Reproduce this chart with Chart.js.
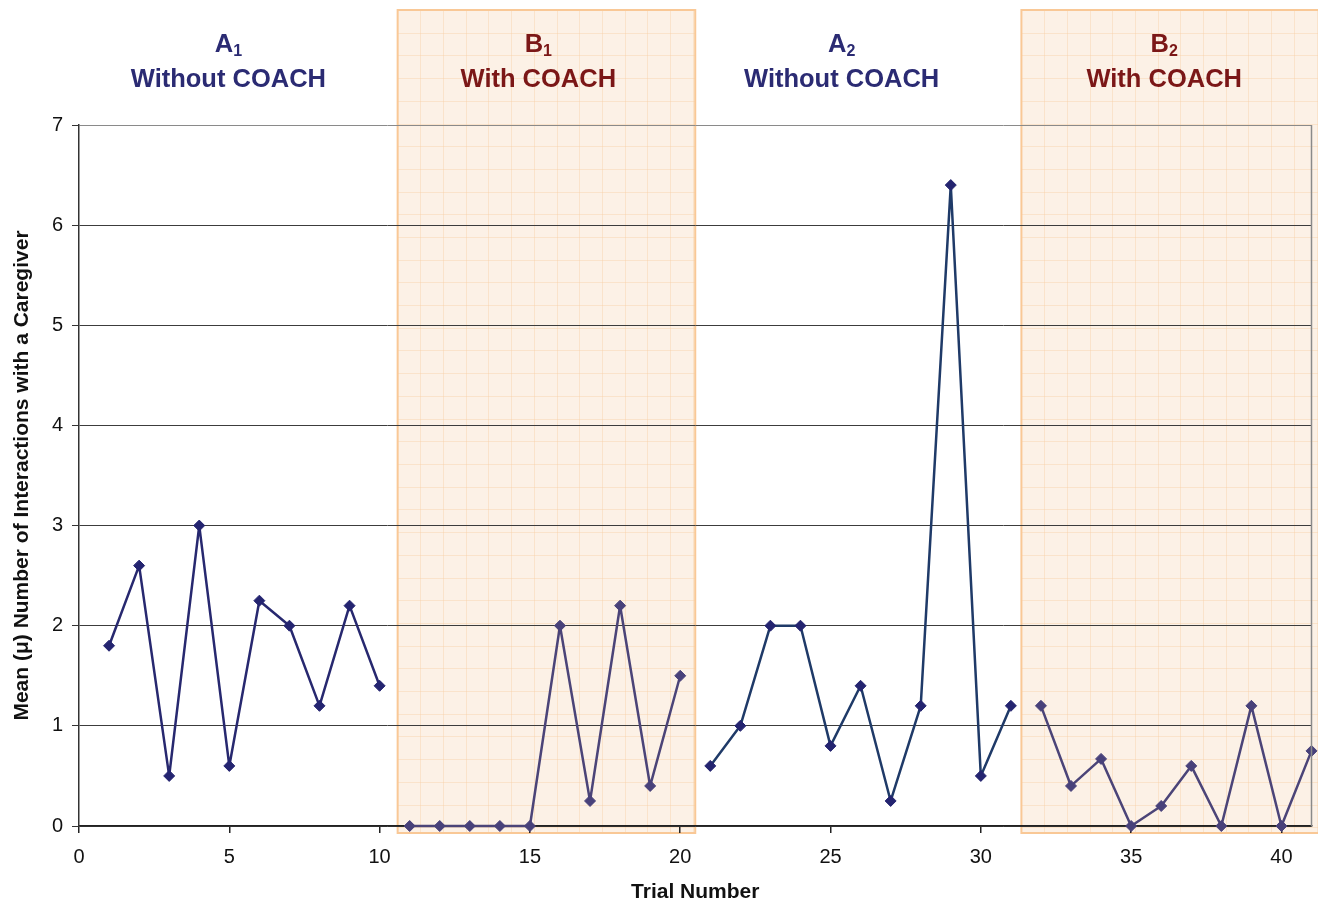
<!DOCTYPE html>
<html>
<head>
<meta charset="utf-8">
<script src="https://cdn.jsdelivr.net/npm/chart.js@4.4.1/dist/chart.umd.min.js"></script>
<style>
  html, body { margin: 0; padding: 0; background: #fff; }
  #wrap { width: 1318px; height: 903px; }
</style>
</head>
<body>
<div id="wrap"><canvas id="chart" width="1318" height="903"></canvas></div>
<script>
// trials and mean interactions, one array per phase
const A1_TRIALS = [1, 2, 3, 4, 5, 6, 7, 8, 9, 10];
const A1_VALUES = [1.8, 2.6, 0.5, 3.0, 0.6, 2.25, 2.0, 1.2, 2.2, 1.4];

const B1_TRIALS = [11, 12, 13, 14, 15, 16, 17, 18, 19, 20];
const B1_VALUES = [0, 0, 0, 0, 0, 2.0, 0.25, 2.2, 0.4, 1.5];

const A2_TRIALS = [21, 22, 23, 24, 25, 26, 27, 28, 29, 30, 31];
const A2_VALUES = [0.6, 1.0, 2.0, 2.0, 0.8, 1.4, 0.25, 1.2, 6.4, 0.5, 1.2];

const B2_TRIALS = [32, 33, 34, 35, 36, 37, 38, 39, 40, 41];
const B2_VALUES = [1.2, 0.4, 0.67, 0, 0.2, 0.6, 0, 1.2, 0, 0.75];

const X_TICKS = [0, 5, 10, 15, 20, 25, 30, 35, 40];

const PHASE_LETTERS = ["A", "B", "A", "B"];
const PHASE_SUBS = ["1", "1", "2", "2"];
const PHASE_NAMES = ["Without COACH", "With COACH", "Without COACH", "With COACH"];

// annotation placement (trial units)
const HEADER_X = [4.97, 15.28, 25.37, 36.1];
const SHADE_RANGES = [[10.6, 20.5], [31.35, 41.5]];

const FONT = '"Liberation Sans", Arial, sans-serif';
const A_LINE = ["#27286f", "#1f3a68"];
const A_POINT = "#242470";
const B_LINE = "#4b4478";
const B_POINT = "#48417a";

function makeSet(trials, values, line, point){
  return {
    data: trials.map((t, i) => ({ x: t, y: values[i] })),
    borderColor: line,
    backgroundColor: point,
    pointBackgroundColor: point,
    pointBorderColor: point,
    borderWidth: 2.5,
    borderJoinStyle: "round",
    pointStyle: "rectRot",
    pointRadius: 5.5,
    pointBorderWidth: 1,
    tension: 0,
    clip: false
  };
}

const phasePlugin = {
  id: "phases",
  beforeDraw(chart){
    const { ctx, chartArea } = chart;
    const xs = chart.scales.x;
    const top = chartArea.top - 115;
    const bottom = chartArea.bottom + 7;
    SHADE_RANGES.forEach(r => {
      const l = xs.getPixelForValue(r[0]);
      const rr = Math.min(xs.getPixelForValue(r[1]), chart.width + 2);
      ctx.save();
      ctx.fillStyle = "#fcf1e6";
      ctx.fillRect(l, top, rr - l, bottom - top);
      ctx.beginPath();
      ctx.rect(l, top, rr - l, bottom - top);
      ctx.clip();
      ctx.strokeStyle = "rgba(247, 205, 160, 0.38)";
      ctx.lineWidth = 1;
      ctx.beginPath();
      for(let x = l + 22.7; x < rr; x += 22.7){
        ctx.moveTo(Math.round(x) + 0.5, top);
        ctx.lineTo(Math.round(x) + 0.5, bottom);
      }
      for(let y = top + 22.7; y < bottom; y += 22.7){
        ctx.moveTo(l, Math.round(y) + 0.5);
        ctx.lineTo(rr, Math.round(y) + 0.5);
      }
      ctx.stroke();
      ctx.restore();
      ctx.save();
      ctx.strokeStyle = "#f9c896";
      ctx.lineWidth = 2;
      ctx.strokeRect(l, top, rr - l, bottom - top);
      ctx.restore();
    });
  },
  afterDraw(chart){
    const { ctx, chartArea } = chart;
    const xs = chart.scales.x;

    // right frame line
    ctx.save();
    ctx.strokeStyle = "#8a8a8a";
    ctx.lineWidth = 1.5;
    ctx.beginPath();
    ctx.moveTo(chartArea.right, chartArea.top);
    ctx.lineTo(chartArea.right, chartArea.bottom);
    ctx.stroke();
    ctx.restore();

    PHASE_NAMES.forEach((name, i) => {
      const cx = xs.getPixelForValue(HEADER_X[i]);
      const color = PHASE_LETTERS[i] === "A" ? "#2b2b73" : "#7b1717";
      ctx.save();
      ctx.fillStyle = color;
      ctx.textBaseline = "alphabetic";

      ctx.font = "bold 25.5px " + FONT;
      const wL = ctx.measureText(PHASE_LETTERS[i]).width;
      ctx.font = "bold 16px " + FONT;
      const wS = ctx.measureText(PHASE_SUBS[i]).width;
      const start = cx - (wL + wS) / 2;

      ctx.textAlign = "left";
      ctx.font = "bold 25.5px " + FONT;
      ctx.fillText(PHASE_LETTERS[i], start, 52);
      ctx.font = "bold 16px " + FONT;
      ctx.fillText(PHASE_SUBS[i], start + wL, 56);

      ctx.textAlign = "center";
      ctx.font = "bold 25.5px " + FONT;
      ctx.fillText(name, cx, 87);
      ctx.restore();
    });
  }
};

new Chart(document.getElementById("chart"), {
  type: "line",
  data: {
    datasets: [
      makeSet(A1_TRIALS, A1_VALUES, A_LINE[0], A_POINT),
      makeSet(B1_TRIALS, B1_VALUES, B_LINE, B_POINT),
      makeSet(A2_TRIALS, A2_VALUES, A_LINE[1], A_POINT),
      makeSet(B2_TRIALS, B2_VALUES, B_LINE, B_POINT)
    ]
  },
  options: {
    responsive: false,
    animation: false,
    layout: { padding: { top: 125, right: 5, left: 0, bottom: 0 } },
    plugins: {
      legend: { display: false },
      tooltip: { enabled: false }
    },
    scales: {
      x: {
        type: "linear",
        min: 0,
        max: 41,
        afterBuildTicks: s => { s.ticks = X_TICKS.map(v => ({ value: v })); },
        afterFit: s => { s.height = 77; },
        grid: { drawOnChartArea: false, drawTicks: true, tickLength: 7, tickColor: "#222", lineWidth: 1.5 },
        border: { color: "#222", width: 1.5 },
        ticks: { color: "#111", font: { family: FONT, size: 20 }, padding: 12, maxRotation: 0 },
        title: {
          display: true,
          text: "Trial Number",
          color: "#111",
          font: { family: FONT, size: 21, weight: "bold", lineHeight: 1 },
          padding: { top: 0, bottom: 0 }
        }
      },
      y: {
        min: 0,
        max: 7,
        afterFit: s => { s.width = 79; },
        ticks: { stepSize: 1, color: "#111", font: { family: FONT, size: 20 }, padding: 9 },
        grid: {
          color: c => c.tick.value === 7 ? "#8a8a8a" : "#3c3c3c",
          tickColor: "#333",
          tickLength: 7,
          lineWidth: 1
        },
        border: { color: "#333", width: 1.5 },
        title: {
          display: true,
          text: "Mean (\u03bc) Number of Interactions with a Caregiver",
          color: "#111",
          font: { family: FONT, size: 21, weight: "bold", lineHeight: 1 },
          padding: { top: 12, bottom: 0 }
        }
      }
    }
  },
  plugins: [phasePlugin]
});
</script>
</body>
</html>
